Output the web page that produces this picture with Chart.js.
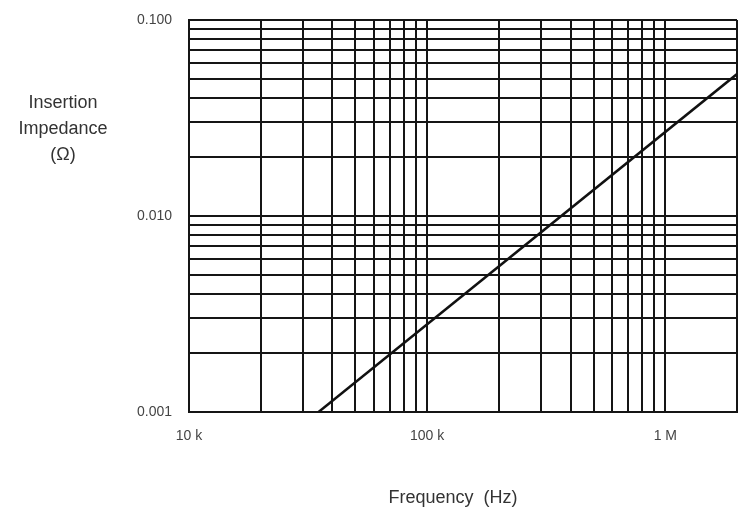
<!DOCTYPE html>
<html>
<head>
<meta charset="utf-8">
<script src="https://cdn.jsdelivr.net/npm/chart.js@4"></script>
<style>
  body { margin: 0; background: #fff; }
  #wrap { position: relative; width: 745px; height: 512px; }
  .ttl { position: absolute; font-family: "Liberation Sans", Arial, sans-serif; font-size: 18px; color: #333; text-align: center; }
</style>
</head>
<body>
<div id="wrap">
  <canvas id="graph" width="745" height="512"></canvas>
  <div class="ttl" style="left:13px; top:89px; width:100px; line-height:26px;">Insertion<br>Impedance<br>(Ω)</div>
  <div class="ttl" style="left:353px; top:487px; width:200px;">Frequency&nbsp; (Hz)</div>
</div>
<script>
// ligne d'impédance (Hz, ohms)
const freqHz = [35000, 2000000];
const impedanceOhm = [0.001, 0.053];

// grille log
const xGrid = [10000, 20000, 30000, 40000, 50000, 60000, 70000, 80000, 90000,
  100000, 200000, 300000, 400000, 500000, 600000, 700000, 800000, 900000,
  1000000, 2000000];
const yGrid = [0.001, 0.002, 0.003, 0.004, 0.005, 0.006, 0.007, 0.008, 0.009,
  0.01, 0.02, 0.03, 0.04, 0.05, 0.06, 0.07, 0.08, 0.09, 0.1];

const xLabelVals = [10000, 100000, 1000000];
const xLabelText = ['10 k', '100 k', '1 M'];
const yLabelVals = [0.001, 0.01, 0.1];
const yLabelText = ['0.001', '0.010', '0.100'];

const gridCol = '#151515';
const tickFont = { family: '"Liberation Sans", Arial, sans-serif', size: 14 };

const near = (a, b) => Math.abs(a - b) / b < 1e-6;

const ctx = document.getElementById('graph').getContext('2d');
new Chart(ctx, {
  type: 'line',
  data: {
    datasets: [{
      data: freqHz.map((f, i) => ({ x: f, y: impedanceOhm[i] })),
      borderColor: '#111',
      borderWidth: 2.5,
      pointRadius: 0,
      tension: 0
    }]
  },
  options: {
    responsive: false,
    animation: false,
    layout: { padding: { top: 20, right: 8, left: 0, bottom: 0 } },
    plugins: { legend: { display: false }, tooltip: { enabled: false } },
    scales: {
      x: {
        type: 'logarithmic',
        min: 10000,
        max: 2000000,
        afterBuildTicks: s => { s.ticks = xGrid.map(v => ({ value: v })); },
        afterFit: s => { s.height = 100; s.paddingLeft = 0; s.paddingRight = 0; },
        grid: { color: gridCol, lineWidth: 2, drawTicks: false },
        border: { display: true, color: gridCol, width: 2 },
        ticks: {
          autoSkip: false, maxRotation: 0, padding: 16, color: '#444', font: tickFont,
          callback: v => {
            const i = xLabelVals.findIndex(t => near(v, t));
            return i >= 0 ? xLabelText[i] : '';
          }
        }
      },
      y: {
        type: 'logarithmic',
        min: 0.001,
        max: 0.1,
        afterBuildTicks: s => { s.ticks = yGrid.map(v => ({ value: v })); },
        afterFit: s => { s.width = 189; s.paddingTop = 0; s.paddingBottom = 0; },
        grid: { color: gridCol, lineWidth: 2, drawTicks: false },
        border: { display: true, color: gridCol, width: 2 },
        ticks: {
          autoSkip: false, padding: 17, color: '#444', font: tickFont,
          callback: v => {
            const i = yLabelVals.findIndex(t => near(v, t));
            return i >= 0 ? yLabelText[i] : '';
          }
        }
      }
    }
  }
});
</script>
</body>
</html>
